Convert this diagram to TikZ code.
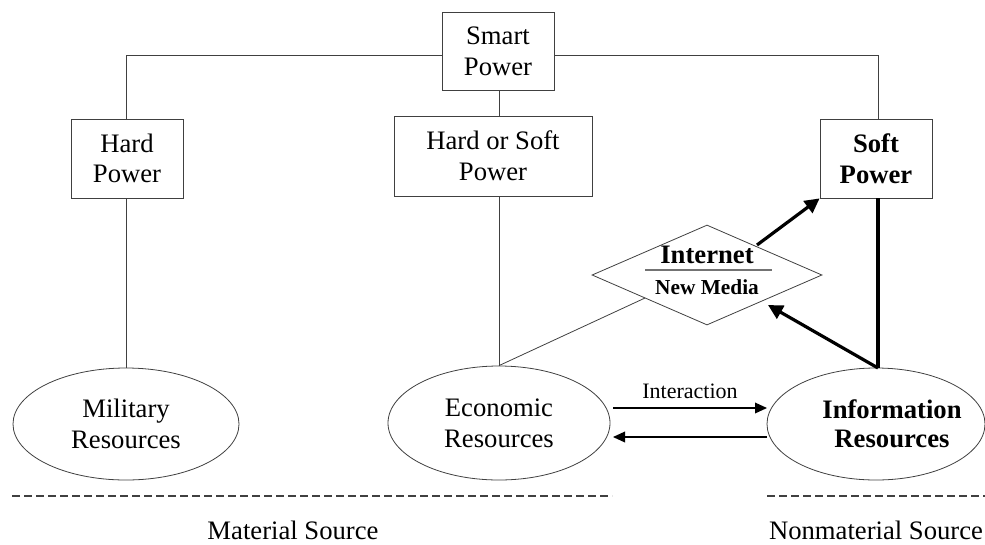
\documentclass[tikz,border=0pt]{standalone}
\usepackage{fontspec}
\setmainfont{Liberation Serif}
\usetikzlibrary{shapes.geometric,arrows.meta}
\begin{document}
\begin{tikzpicture}[x=0.75pt,y=-0.75pt,
  pbox/.style={draw=black!75,line width=0.6pt,align=center,inner sep=0pt,font=\fontsize{20}{23}\selectfont},
  res/.style={draw=black!75,ellipse,line width=0.6pt,align=center,inner sep=0pt,font=\fontsize{20}{23}\selectfont},
  thin/.style={draw=black!75,line width=0.6pt},
  thick/.style={line width=2.4pt,-{Triangle[length=11pt,width=11pt]}},
  iarrow/.style={line width=1pt,-{Triangle[length=9pt,width=8pt]}}]
\useasboundingbox (0,0) rectangle (985,544);
\node[pbox,minimum width=112*0.75pt,minimum height=78*0.75pt] (smart) at (498,51) {Smart\\Power};
\node[pbox,minimum width=198*0.75pt,minimum height=80*0.75pt] (hs) at (493,156) {Hard or Soft\\Power};
\node[pbox,minimum width=112*0.75pt,minimum height=79*0.75pt] (hard) at (127,158.5) {Hard\\Power};
\node[pbox,minimum width=112*0.75pt,minimum height=79*0.75pt,font=\bfseries\fontsize{20}{23}\selectfont] (soft) at (876,158.5) {Soft\\Power};
\node[res,minimum width=226*0.75pt,minimum height=112*0.75pt] (mil) at (126,424) {Military\\Resources};
\node[res,minimum width=222*0.75pt,minimum height=114*0.75pt] (eco) at (499,423) {Economic\\Resources};
\node[res,minimum width=218*0.75pt,minimum height=112*0.75pt] (info) at (876,424) {};
\node[align=center,inner sep=0pt,font=\bfseries\fontsize{20}{22}\selectfont] (infot) at (892,424) {Information\\Resources};
\node[draw=black!75,line width=0.6pt,diamond,aspect=2.3,minimum width=230*0.75pt,minimum height=100*0.75pt,inner sep=0pt] (net) at (707,275) {};
\node[font=\bfseries\fontsize{20}{23}\selectfont] (netA) at (707,255) {Internet};
\node[font=\bfseries\fontsize{16}{19}\selectfont] (netB) at (707,287) {New Media};
\coordinate (rl) at (645,270);
\coordinate (rr) at (772,270);
\draw[black!55,line width=1.2pt] (rl) -- (rr);
% tree lines
\coordinate (tl) at (126,55);
\coordinate (tr) at (878,55);
\draw[thin] (smart.west |- tl) -- (tl) -- (hard.north -| tl);
\draw[thin] (smart.east |- tr) -- (tr) -- (soft.north -| tr);
\draw[thin] (smart.south -| eco.north) -- (hs.north -| eco.north);
\draw[thin] (hard.south -| mil.north) -- (mil.north);
\draw[thin] (hs.south -| eco.north) -- (eco.north);
\coordinate (dl) at (645,298);
\draw[thin] (eco.north) -- (dl);
% thick arrows
\coordinate (na) at (757,245);
\coordinate (nb) at (768,305);
\coordinate (it) at (878,368);
\draw[thick] (na) -- (soft.south west);
\draw[thick] (it) -- (nb);
\draw[line width=2.4pt] (soft.south -| it) -- (it);
% interaction
\coordinate (ua) at (613,408);
\coordinate (ub) at (767,408);
\coordinate (la) at (767,437);
\coordinate (lb) at (613,437);
\draw[iarrow] (ua) -- node[above=3pt,font=\fontsize{16.5}{19}\selectfont] (lab) {Interaction} (ub);
\draw[iarrow] (la) -- (lb);
% dashed
\coordinate (d1) at (12,496);
\coordinate (d2) at (612,496);
\coordinate (d3) at (767,496);
\coordinate (d4) at (985,496);
\draw[black!75,line width=1pt,dash pattern=on 6pt off 3pt] (d1) -- (d2);
\draw[black!75,line width=1pt,dash pattern=on 6pt off 3pt] (d3) -- (d4);
\node[font=\fontsize{20}{23}\selectfont] (ms) at (293,530) {Material Source};
\node[font=\fontsize{20}{23}\selectfont] (ns) at (876,530) {Nonmaterial Source};
\end{tikzpicture}
\end{document}
